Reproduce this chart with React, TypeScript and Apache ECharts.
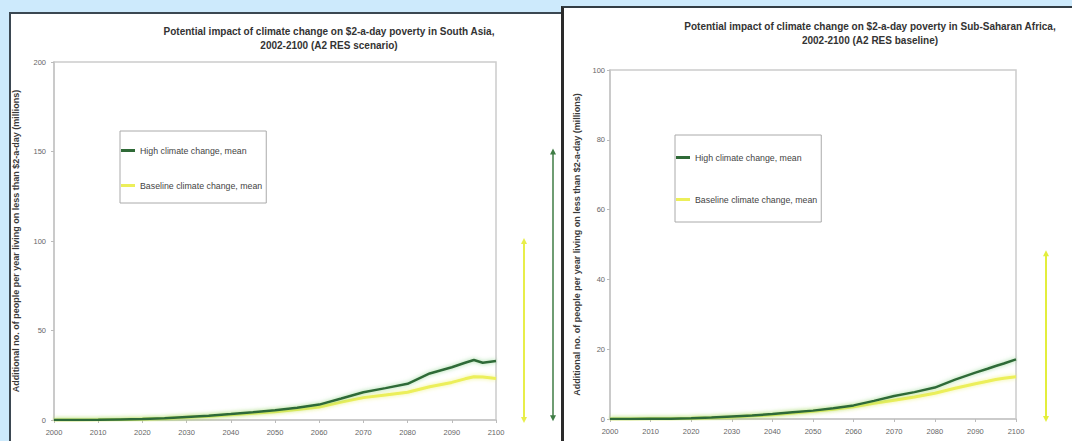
import React, { useEffect, useRef } from "react";
import * as echarts from "echarts";

// Years sampled along the curves
const years = [2000, 2005, 2010, 2015, 2020, 2025, 2030, 2035, 2040, 2045, 2050, 2055, 2060, 2065, 2070, 2075, 2080, 2085, 2090, 2093, 2095, 2097, 2100];

// South Asia (millions)
const southAsiaHigh = [0, 0, 0.1, 0.3, 0.5, 1.0, 1.7, 2.4, 3.3, 4.3, 5.5, 6.8, 8.6, 12, 15.5, 17.8, 20.2, 26, 29.5, 32, 33.5, 32, 33];
const southAsiaBaseline = [0, 0, 0.1, 0.3, 0.5, 0.9, 1.5, 2.1, 2.9, 3.7, 4.6, 5.8, 7.3, 10, 12.5, 14, 15.5, 18.6, 21, 23, 24.2, 24, 23.2];

// Sub-Saharan Africa (millions)
const ssaHigh = [0, 0, 0.05, 0.1, 0.2, 0.4, 0.7, 1.0, 1.4, 1.9, 2.4, 3.1, 3.9, 5.2, 6.6, 7.7, 9.0, 11.3, 13.3, 14.4, 15.2, 15.9, 17.1];
const ssaBaseline = [0, 0, 0.05, 0.1, 0.2, 0.35, 0.6, 0.9, 1.2, 1.7, 2.2, 2.8, 3.5, 4.5, 5.4, 6.3, 7.4, 8.8, 10.1, 10.8, 11.3, 11.7, 12.1];

// Range arrows drawn beside the plots (value extents)
const southAsiaHighRange = [1, 150];
const southAsiaBaselineRange = [0, 100];
const ssaBaselineRange = [0, 47.5];

const titles = [
  "Potential impact of climate change on $2-a-day poverty in South Asia,\n2002-2100 (A2 RES scenario)",
  "Potential impact of climate change on $2-a-day poverty in Sub-Saharan Africa,\n2002-2100 (A2 RES baseline)",
];
const yAxisTitle = "Additional no. of people per year living on less than $2-a-day (millions)";
const seriesNames = ["High climate change, mean", "Baseline climate change, mean"];

const FONT = "'Liberation Sans', Arial, sans-serif";
const GREEN = "#2f6a37";
const YELLOW = "#ecef5a";

export default function App() {
  const ref = useRef<HTMLDivElement>(null);

  useEffect(() => {
    document.body.style.margin = "0";
    const chart = echarts.init(ref.current!, null, { renderer: "svg" });
    const pairs = (arr: number[]) => years.map((y, i) => [y, arr[i]]);

    const xAxis = (gi: number) => ({
      type: "value",
      gridIndex: gi,
      min: 2000,
      max: 2100,
      interval: 10,
      axisLine: { show: true, lineStyle: { color: "#c6c6c6", width: 1.5 } },
      axisTick: { show: true, length: 3, lineStyle: { color: "#bbbbbb" } },
      axisLabel: { formatter: (v: number) => String(v), fontSize: 7.5, color: "#666", fontFamily: FONT, margin: 8 },
      splitLine: { show: false },
    });
    const yAxis = (gi: number, max: number, interval: number, gap: number, margin: number) => ({
      type: "value",
      gridIndex: gi,
      min: 0,
      max,
      interval,
      name: yAxisTitle,
      nameLocation: "middle",
      nameRotate: 90,
      nameGap: gap,
      nameTextStyle: { fontSize: 9, fontWeight: "bold", color: "#3a3a3a", fontFamily: FONT },
      axisLine: { show: true, lineStyle: { color: "#c6c6c6", width: 1.5 } },
      axisTick: { show: true, length: 3, lineStyle: { color: "#bbbbbb" } },
      axisLabel: { fontSize: 7.5, color: "#666", fontFamily: FONT, margin },
      splitLine: { show: false },
    });
    const line = (name: string, data: number[], gi: number, color: string, halo: string, width: number) => ({
      type: "line",
      name,
      xAxisIndex: gi,
      yAxisIndex: gi,
      data: pairs(data),
      symbol: "none",
      lineStyle: { color, width, shadowBlur: 4, shadowColor: halo },
      itemStyle: { color },
      z: color === GREEN ? 3 : 2,
    });
    const legend = (left: number, top: number, gap: number, pad: number[]) => ({
      orient: "vertical",
      left,
      top,
      icon: "rect",
      itemGap: gap,
      itemWidth: 14,
      itemHeight: 3,
      padding: pad,
      borderColor: "#aaaaaa",
      borderWidth: 1,
      backgroundColor: "#ffffff",
      selectedMode: false,
      textStyle: { fontSize: 8.8, color: "#444", fontFamily: FONT },
      data: seriesNames,
    });

    chart.setOption({
      animation: false,
      backgroundColor: "transparent",
      title: [
        { text: titles[0], left: 324, top: 19, textAlign: "center", textStyle: { fontSize: 10, fontWeight: "bold", color: "#333", lineHeight: 14, fontFamily: FONT } },
        { text: titles[1], left: 865, top: 14, textAlign: "center", textStyle: { fontSize: 10, fontWeight: "bold", color: "#333", lineHeight: 14, fontFamily: FONT } },
      ],
      grid: [
        { left: 54, top: 62, width: 442, height: 358, show: true, borderColor: "#cccccc", borderWidth: 1.5, backgroundColor: "transparent" },
        { left: 610, top: 70, width: 406, height: 349, show: true, borderColor: "#cccccc", borderWidth: 1.5, backgroundColor: "transparent" },
      ],
      xAxis: [xAxis(0), xAxis(1)],
      yAxis: [yAxis(0, 200, 50, 34, 8), yAxis(1, 100, 20, 29, 5)],
      legend: [legend(120, 131, 26, [15, 4, 13, 1]), legend(675, 135, 33, [18, 4, 18, 1])],
      series: [
        line(seriesNames[1], southAsiaBaseline, 0, YELLOW, "rgba(235,240,90,0.7)", 3),
        line(seriesNames[0], southAsiaHigh, 0, GREEN, "rgba(110,200,110,0.7)", 2.5),
        line(seriesNames[1], ssaBaseline, 1, YELLOW, "rgba(235,240,90,0.7)", 3),
        line(seriesNames[0], ssaHigh, 1, GREEN, "rgba(110,200,110,0.7)", 2.5),
      ],
    });

    const arrow = (gi: number, range: number[], dx: number, color: string, width: number) => {
      const pb = chart.convertToPixel({ gridIndex: gi } as any, [2100, range[0]]) as number[];
      const pt = chart.convertToPixel({ gridIndex: gi } as any, [2100, range[1]]) as number[];
      const x = pb[0] + dx;
      const yb = pb[1];
      const yt = pt[1];
      return [
        { type: "line", shape: { x1: x, y1: yt, x2: x, y2: yb }, style: { stroke: color, lineWidth: width } },
        { type: "polygon", shape: { points: [[x, yt - 3], [x - 3, yt + 3], [x + 3, yt + 3]] }, style: { fill: color } },
        { type: "polygon", shape: { points: [[x, yb + 3], [x - 3, yb - 3], [x + 3, yb - 3]] }, style: { fill: color } },
      ];
    };
    chart.setOption({
      graphic: [
        ...arrow(0, southAsiaHighRange, 57, "#3f7d45", 1.5),
        ...arrow(0, southAsiaBaselineRange, 28, "#e8ee4a", 2),
        ...arrow(1, ssaBaselineRange, 30, "#e3ee3c", 2),
      ],
    });

    return () => chart.dispose();
  }, []);

  return (
    <div style={{ position: "fixed", left: 0, top: 0, width: 1072, height: 441, background: "#cdeafc", overflow: "hidden" }}>
      <div style={{ position: "absolute", left: 9, top: 12, width: 560, height: 440, background: "#fff", borderTop: "2px solid #3b4852", borderLeft: "2px solid #3b4852", boxSizing: "border-box" }} />
      <div style={{ position: "absolute", left: 561, top: 6, width: 520, height: 450, background: "#fff", borderTop: "2px solid #333d44", borderLeft: "3px solid #2a2a2a", boxSizing: "border-box" }} />
      <div ref={ref} style={{ position: "absolute", left: 0, top: 0, width: 1072, height: 441 }} />
    </div>
  );
}
